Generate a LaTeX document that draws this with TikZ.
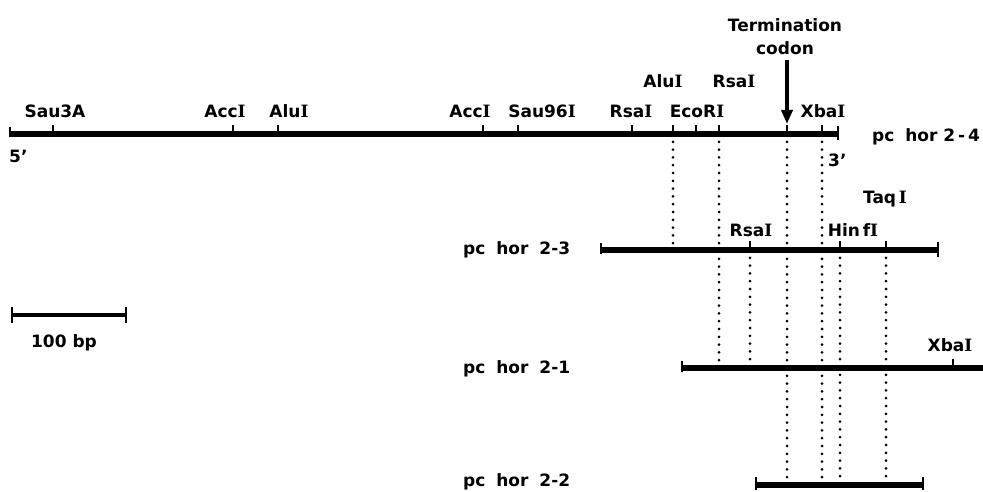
\documentclass[tikz,border=0pt]{standalone}
\usepackage{fontspec}
\setmainfont{DejaVu Sans}[UprightFont=* Bold]
\newfontfamily\serI{DejaVu Serif}[UprightFont=* Bold]
\newcommand\RN{{\serI I}}
\usetikzlibrary{arrows.meta}
\begin{document}
\begin{tikzpicture}[x=1pt,y=-1pt,
  dna/.style={line width=5.5pt},
  tk/.style={line width=1.8pt},
  dots/.style={line width=3pt, line cap=round, dash pattern=on 0pt off 7.8pt},
  lab/.style={font=\fontsize{17}{19}\selectfont, anchor=base, inner sep=0pt},
  arr/.style={line width=3.5pt, -{Triangle[length=14pt,width=11pt]}}]
\useasboundingbox (0,0) rectangle (983,492);
% coordinates of fragment ends
\coordinate (a4) at (10,134);  \coordinate (b4) at (838,134);
\coordinate (a3) at (601,250); \coordinate (b3) at (938,250);
\coordinate (a1) at (682,368); \coordinate (b1) at (983,368);
\coordinate (a2) at (756,485); \coordinate (b2) at (923,485);
% dotted alignment lines
\coordinate (p1t) at (673,134); \coordinate (p1b) at (673,250);
\coordinate (p2t) at (719,134); \coordinate (p2b) at (719,368);
\coordinate (p3t) at (787,134); \coordinate (p3b) at (787,485);
\coordinate (p4t) at (822,134); \coordinate (p4b) at (822,485);
\coordinate (p5t) at (750,250); \coordinate (p5b) at (750,368);
\coordinate (p6t) at (840,250); \coordinate (p6b) at (840,485);
\coordinate (p7t) at (886,250); \coordinate (p7b) at (886,485);
\foreach \i in {1,...,7} \draw[dots] (p\i t) -- (p\i b);
% fragments
\draw[dna] (a4) -- (b4);
\draw[dna] (a3) -- (b3);
\draw[dna] (a1) -- (b1);
\draw[dna] (a2) -- (b2);
% restriction site ticks
\foreach \x in {53,233,278,483,518,632,673,696,719,787,822}
  \draw[tk] (\x,134) -- ++(0,-9);
\foreach \x in {750,840,886} \draw[tk] (\x,250) -- ++(0,-9);
\draw[tk] (953,368) -- ++(0,-9);
% end ticks
\draw[tk] (10,127) -- (10,137);
\draw[tk] (838,126) -- (838,140);
\draw[tk] (601,243) -- (601,254);
\draw[tk] (938,242) -- (938,257);
\draw[tk] (682,361) -- (682,372);
\draw[tk] (756,477) -- (756,490);
\draw[tk] (923,477) -- (923,490);
% scale bar
\coordinate (s1) at (12,315); \coordinate (s2) at (126,315);
\draw[line width=4.5pt] (s1) -- (s2);
\draw[line width=2.2pt] (12,307) -- (12,323);
\draw[line width=2.2pt] (126,307) -- (126,323);
\node[lab] (bp) at (64,347) {100 bp};
% labels
\node[lab] (sau3a) at (55,118) {Sau3A};
\node[lab] (acc1) at (225,118) {Acc\RN};
\node[lab] (alu1) at (289,118) {Alu\RN};
\node[lab] (acc2) at (470,118) {Acc\RN};
\node[lab] (sau96) at (542,118) {Sau96\RN};
\node[lab] (rsa1) at (631,118) {Rsa\RN};
\node[lab] (eco) at (697,118) {EcoR\RN};
\node[lab] (alu2) at (663,88) {Alu\RN};
\node[lab] (rsa2) at (734,88) {Rsa\RN};
\node[lab] (xba1) at (823,118) {Xba\RN};
\node[lab] (term) at (785,32) {Termination};
\node[lab] (codon) at (785,55) {codon};
\coordinate (arrs) at (787,60); \coordinate (arrt) at (787,124);
\draw[arr] (arrs) -- (arrt);
\node[lab, anchor=base west] (five) at (9,163) {5\textquoteright};
\node[lab, anchor=base west] (three) at (828,167) {3\textquoteright};
\node[lab, anchor=base west] (n24) at (872,142) {pc\hspace{5pt} hor 2\,-\,4};
\node[lab, anchor=base west] (n23) at (463,254) {pc\hspace{5pt} hor\hspace{5pt} 2-3};
\node[lab] (rsa3) at (751,236) {Rsa\RN};
\node[lab] (hinf) at (853,236) {Hin\,f\RN};
\node[lab] (taq) at (885,204) {Taq\,\RN};
\node[lab, anchor=base west] (n21) at (463,373) {pc\hspace{5pt} hor\hspace{5pt} 2-1};
\node[lab] (xba2) at (950,351) {Xba\RN};
\node[lab, anchor=base west] (n22) at (463,486) {pc\hspace{5pt} hor\hspace{5pt} 2-2};
\end{tikzpicture}
\end{document}
